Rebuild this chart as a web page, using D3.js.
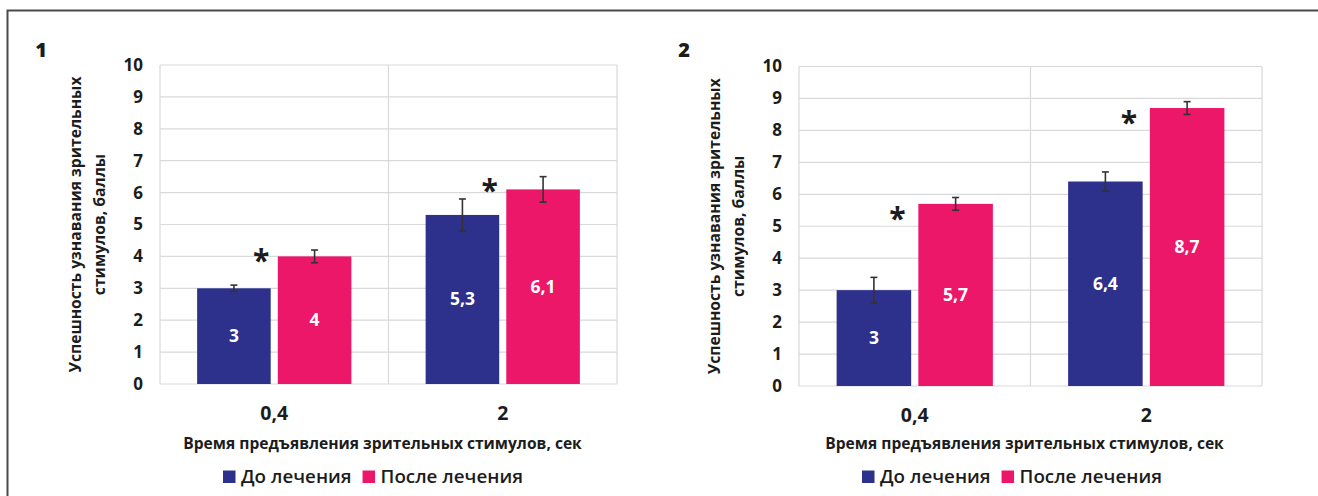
<!DOCTYPE html>
<html>
<head>
<meta charset="utf-8">
<script src="https://cdn.jsdelivr.net/npm/d3@7"></script>
<style>
  html, body { margin: 0; padding: 0; background: #fff; }
  svg { display: block; }
  text { font-family: "Open Sans", "DejaVu Sans", sans-serif; }
</style>
</head>
<body>
<svg id="chart" width="1318" height="496"></svg>
<script>
// Presentation time of the visual stimuli, s
const categories = ["0,4", "2"];
const seriesNames = ["До лечения", "После лечения"];
const yTicks = [0, 1, 2, 3, 4, 5, 6, 7, 8, 9, 10];

// Panel 1: recognition success, points
const panel1Before = [3, 5.3];
const panel1After = [4, 6.1];
const panel1BeforeErr = [0.1, 0.5];
const panel1AfterErr = [0.2, 0.4];
const panel1SigLevel = [3.95, 6.14];

// Panel 2: recognition success, points
const panel2Before = [3, 6.4];
const panel2After = [5.7, 8.7];
const panel2BeforeErr = [0.4, 0.3];
const panel2AfterErr = [0.2, 0.2];
const panel2SigLevel = [5.32, 8.33];

const yTitleLines = ["Успешность узнавания зрительных", "стимулов, баллы"];
const xTitle = "Время предъявления зрительных стимулов, сек";

const colors = ["#2d318c", "#ec1768"];
const ink = "#1c1c1c";
const svg = d3.select("#chart");

// outer frame (open at the right and bottom)
svg.append("path")
  .attr("d", "M7.5,496 L7.5,10.5 L1318,10.5")
  .attr("fill", "none").attr("stroke", "#4a4a4a").attr("stroke-width", 2);

const panels = [
  { label: "1", before: panel1Before, after: panel1After, beforeErr: panel1BeforeErr, afterErr: panel1AfterErr, sig: panel1SigLevel,
    x0: 160, x1: 617, yTop: 65, yBottom: 384, labelX: 41, sigDx: -16.5, legendX: 223 },
  { label: "2", before: panel2Before, after: panel2After, beforeErr: panel2BeforeErr, afterErr: panel2AfterErr, sig: panel2SigLevel,
    x0: 799, x1: 1262, yTop: 66.5, yBottom: 386, labelX: 684, sigDx: -21, legendX: 862 }
];

panels.forEach(p => {
  const g = svg.append("g");
  const x = d3.scaleBand().domain(categories).range([p.x0, p.x1]).padding(0);
  const y = d3.scaleLinear().domain([0, 10]).range([p.yBottom, p.yTop]);
  const bw = x.bandwidth() * 0.322;
  const gap = x.bandwidth() * 0.031;

  // horizontal grid
  g.append("g").selectAll("line").data(yTicks).join("line")
    .attr("x1", p.x0).attr("x2", p.x1)
    .attr("y1", d => y(d)).attr("y2", d => y(d))
    .attr("stroke", "#d9d9d9").attr("stroke-width", 1.2);
  // vertical grid at category boundaries
  const bounds = categories.map(c => x(c)).concat([p.x1]);
  g.append("g").selectAll("line").data(bounds).join("line")
    .attr("x1", d => d).attr("x2", d => d)
    .attr("y1", p.yTop).attr("y2", p.yBottom)
    .attr("stroke", "#d9d9d9").attr("stroke-width", 1.2);

  // y axis labels
  const yAxis = d3.axisLeft(y).tickValues(yTicks).tickSize(0).tickPadding(17);
  const ya = g.append("g").attr("transform", `translate(${p.x0},0)`).call(yAxis);
  ya.select(".domain").remove();
  ya.selectAll("text").attr("font-size", 17).attr("font-weight", 700).attr("fill", ink)
    .attr("font-family", "'Open Sans', sans-serif");

  // x axis labels
  const xAxis = d3.axisBottom(x).tickSize(0).tickPadding(22);
  const xa = g.append("g").attr("transform", `translate(0,${p.yBottom})`).call(xAxis);
  xa.select(".domain").remove();
  xa.selectAll("text").attr("font-size", 19.5).attr("font-weight", 700).attr("fill", ink)
    .attr("font-family", "'Open Sans', sans-serif");

  // bars
  const rows = categories.map((c, i) => ([
    { c, s: 0, v: p.before[i], e: p.beforeErr[i] },
    { c, s: 1, v: p.after[i], e: p.afterErr[i] }
  ])).flat();
  const groupW = 2 * bw + gap;
  const barX = d => x(d.c) + (x.bandwidth() - groupW) / 2 + d.s * (bw + gap);

  g.append("g").selectAll("rect").data(rows).join("rect")
    .attr("x", barX).attr("width", bw)
    .attr("y", d => y(d.v)).attr("height", d => y(0) - y(d.v))
    .attr("fill", d => colors[d.s]);

  // value labels
  g.append("g").selectAll("text").data(rows).join("text")
    .attr("x", d => barX(d) + bw / 2)
    .attr("y", d => (y(d.v) + y(0)) / 2 + 6)
    .attr("text-anchor", "middle")
    .attr("font-size", 17.5).attr("font-weight", 700).attr("fill", "#fff")
    .text(d => String(d.v).replace(".", ","));

  // error bars
  const eb = g.append("g").attr("stroke", "#333").attr("stroke-width", 1.6);
  rows.forEach(d => {
    const cx = barX(d) + bw / 2;
    eb.append("line").attr("x1", cx).attr("x2", cx).attr("y1", y(d.v - d.e)).attr("y2", y(d.v + d.e));
    [d.v - d.e, d.v + d.e].forEach(v => {
      eb.append("line").attr("x1", cx - 3.5).attr("x2", cx + 3.5).attr("y1", y(v)).attr("y2", y(v));
    });
  });

  // significance marks
  g.append("g").selectAll("text").data(categories).join("text")
    .attr("x", (c, i) => barX({ c, s: 1 }) + p.sigDx)
    .attr("y", (c, i) => y(p.sig[i]) + 13)
    .attr("text-anchor", "middle")
    .attr("font-size", 30).attr("font-weight", 700).attr("fill", ink)
    .attr("font-family", "'Liberation Sans', sans-serif")
    .text("*");

  // y title (two lines, rotated)
  const yMid = (p.yTop + p.yBottom) / 2;
  const yt = g.append("text")
    .attr("transform", `translate(${p.x0 - 79},${yMid}) rotate(-90)`)
    .attr("text-anchor", "middle")
    .attr("font-size", 15.7).attr("font-weight", 700).attr("fill", ink);
  yTitleLines.forEach((t, i) => {
    yt.append("tspan").attr("x", 0).attr("dy", i === 0 ? 0 : 24).text(t);
  });

  // x title
  g.append("text")
    .attr("x", (p.x0 + p.x1) / 2 - 6).attr("y", 449)
    .attr("text-anchor", "middle")
    .attr("font-size", 15.6).attr("font-weight", 700).attr("fill", ink)
    .text(xTitle);

  // legend
  const lg = g.append("g").attr("transform", `translate(${p.legendX},0)`);
  let lx = 0;
  seriesNames.forEach((n, i) => {
    lg.append("rect").attr("x", lx).attr("y", 470.5).attr("width", 12.5).attr("height", 12.5).attr("fill", colors[i]);
    const t = lg.append("text").attr("x", lx + 18).attr("y", 483)
      .attr("font-size", 18.8).attr("font-weight", 600).attr("fill", ink).text(n);
    lx += 18 + t.node().getComputedTextLength() + 11;
  });

  // panel number
  g.append("text").attr("x", p.labelX).attr("y", 57).attr("text-anchor", "middle")
    .attr("font-size", 20).attr("font-weight", 800).attr("fill", ink).text(p.label);
});
</script>
</body>
</html>
